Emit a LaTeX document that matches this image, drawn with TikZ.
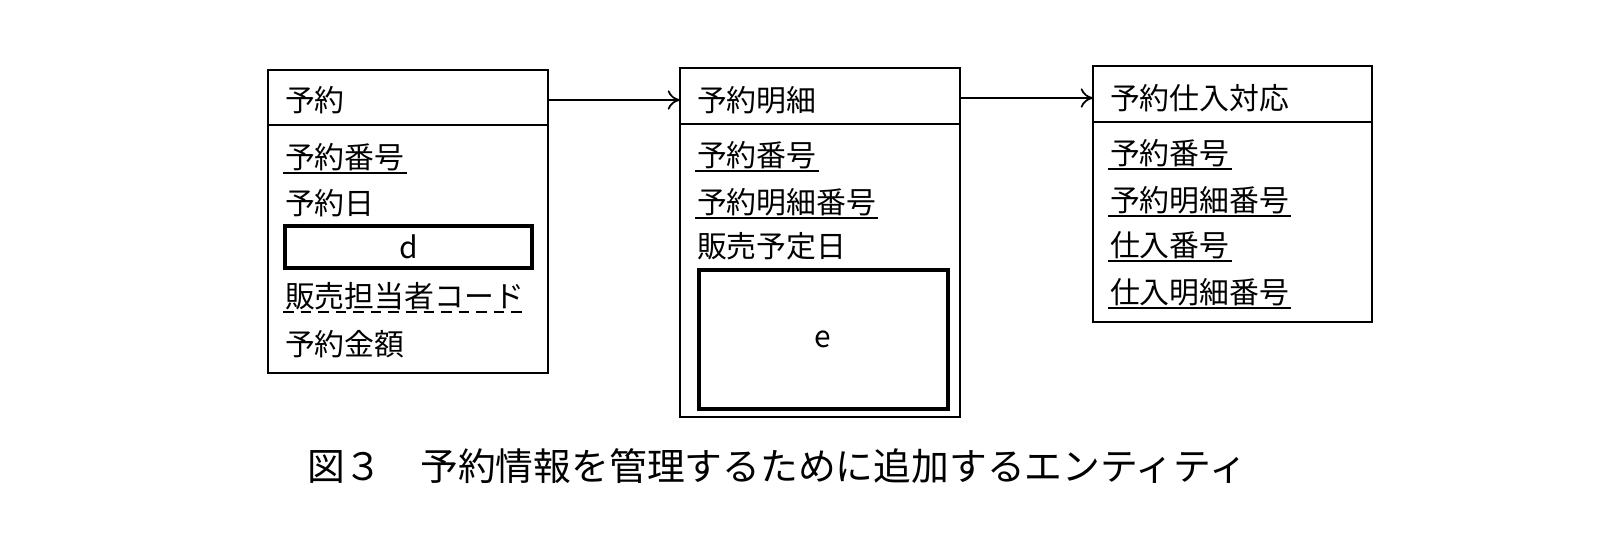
\documentclass[tikz,border=0pt]{standalone}
\usepackage{fontspec}
\setmainfont{Noto Sans CJK JP}
\usetikzlibrary{positioning,arrows.meta}
\begin{document}
\begin{tikzpicture}[x=0.02cm, y=-0.02cm]
\tikzset{every node/.style={font=\fontsize{17}{20}\selectfont, inner sep=1pt}}
\tikzset{attr/.style={anchor=west}}
\tikzset{box/.style={draw, line width=1.2pt}}
\tikzset{keyline/.style={line width=1pt}}
\tikzset{rel/.style={-{To[length=7pt,width=11pt,line width=1pt]}, line width=1.2pt}}

% entity 1
\draw[box] (268,70) rectangle (548,373);
\draw[box] (268,125) -- (548,125);
\node[attr] (t1) at (283,100) {予約};
\node[attr] (a11) at (283,157) {予約番号};
\node[attr] (a12) at (283,203) {予約日};
\node[draw, line width=2pt, minimum width=247*0.02cm, minimum height=42*0.02cm, anchor=north west] (d) at (283,224) {d};
\node[attr] (a13) at (283,296) {販売担当者コード};
\node[attr] (a14) at (283,344) {予約金額};
\draw[keyline] (a11.south west) -- (a11.south east);
\draw[keyline, dash pattern=on 6pt off 4pt] (a13.south west) -- (a13.south east);

% entity 2
\draw[box] (680,68) rectangle (960,417);
\draw[box] (680,124) -- (960,124);
\node[attr] (t2) at (695,100) {予約明細};
\node[attr] (a21) at (695,155) {予約番号};
\node[attr] (a22) at (695,202) {予約明細番号};
\node[attr] (a23) at (695,246) {販売予定日};
\node[draw, line width=2pt, minimum width=249*0.02cm, minimum height=139*0.02cm, anchor=north west] (e) at (697,268) {e};
\draw[keyline] (a21.south west) -- (a21.south east);
\draw[keyline] (a22.south west) -- (a22.south east);

% entity 3
\draw[box] (1093,66) rectangle (1372,322);
\draw[box] (1093,122) -- (1372,122);
\node[attr] (t3) at (1108,98) {予約仕入対応};
\node[attr] (a31) at (1108,153) {予約番号};
\node[attr] (a32) at (1108,200) {予約明細番号};
\node[attr] (a33) at (1108,245) {仕入番号};
\node[attr] (a34) at (1108,292) {仕入明細番号};
\foreach \n in {a31,a32,a33,a34}
  \draw[keyline] (\n.south west) -- (\n.south east);

% relations
\coordinate (r1) at (548,100);
\coordinate (l2) at (680,100);
\coordinate (r2) at (960,98);
\coordinate (l3) at (1093,98);
\draw[rel] (r1) -- (l2);
\draw[rel] (r2) -- (l3);

\node[font=\fontsize{21.5}{24}\selectfont, anchor=west] (cap) at (305,466) {図３　予約情報を管理するために追加するエンティティ};

\pgfresetboundingbox
\useasboundingbox (0,0) rectangle (1614,552);
\end{tikzpicture}
\end{document}
